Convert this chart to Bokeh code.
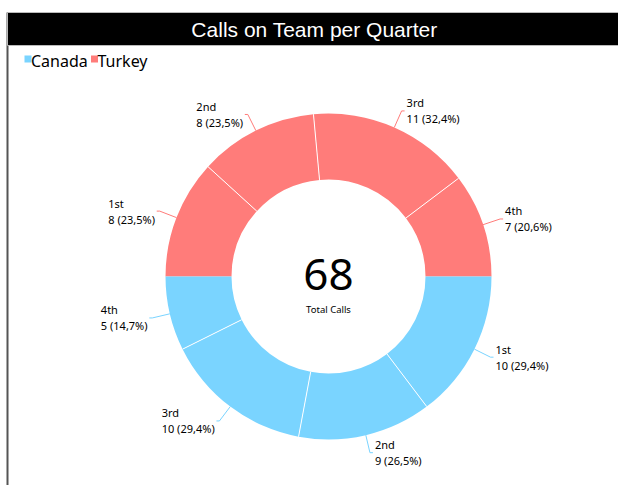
import math
from bokeh.plotting import figure
from bokeh.models import Range1d, ColumnDataSource
from bokeh.embed import file_html
from bokeh.resources import INLINE
from bokeh.core.properties import value

# ---------------- data ----------------
title_text = "Calls on Team per Quarter"
series = ["Canada", "Turkey"]
quarters = ["1st", "2nd", "3rd", "4th"]
canada = [10, 9, 10, 5]
turkey = [8, 8, 11, 7]
center_caption = "Total Calls"
series_colors = ["#7AD4FF", "#FF7C7A"]

# ---------------- layout ----------------
W, H = 618, 485


def Y(py):
    return H - py


FONT = "Noto Sans"
p = figure(width=W, height=H, x_range=Range1d(0, W), y_range=Range1d(0, H),
           output_backend="svg", toolbar_location=None,
           x_axis_type=None, y_axis_type=None, min_border=0)
p.grid.visible = False
p.outline_line_color = None
p.background_fill_color = "white"
p.border_fill_color = "white"

color_of = dict(zip(series, series_colors))
values_of = {"Canada": canada, "Turkey": turkey}

# frame: left border and title bar
p.segment(x0=[7], y0=[Y(12)], x1=[7], y1=[Y(485)], line_color="#555555", line_width=2)
p.quad(left=[7], right=[640], top=[Y(12)], bottom=[Y(45)], fill_color="black",
       line_color="#bbbbbb", line_width=1)
p.text(x=[314], y=[Y(29)], text=[title_text], text_color="white",
       text_font=value("Liberation Sans"), text_font_size="21px",
       text_align="center", text_baseline="middle")

# legend
leg_sq_x = [27.5, 94]
leg_tx_x = [30.5, 97]
p.rect(x=leg_sq_x, y=[Y(58.5)] * 2, width=7, height=7, fill_color=series_colors,
       line_color=None)
p.text(x=leg_tx_x, y=[Y(60)] * 2, text=series, text_color="black",
       text_font=value(FONT), text_font_size="16px", text_align="left",
       text_baseline="middle")

# donut
cx, cy = 328, Y(276)
R_out, R_in = 163, 97
total = sum(canada) + sum(turkey)

starts, ends, cols = [], [], []
sep_angles = []
labels = []
cum = 0
for name in ["Turkey", "Canada"]:
    vals = values_of[name]
    s = sum(vals)
    for i, (q, v) in enumerate(zip(quarters, vals)):
        a0 = math.pi - 2 * math.pi * cum / total
        cum += v
        a1 = math.pi - 2 * math.pi * cum / total
        starts.append(a0)
        ends.append(a1)
        cols.append(color_of[name])
        if i < len(vals) - 1:
            sep_angles.append(a1)
        pct = f"{100.0 * v / s:.1f}".replace(".", ",")
        labels.append((name, q, f"{v} ({pct}%)", (a0 + a1) / 2))

src = ColumnDataSource(dict(start=starts, end=ends, color=cols))
p.annular_wedge(x=cx, y=cy, inner_radius=R_in, outer_radius=R_out,
                start_angle="start", end_angle="end", direction="clock",
                fill_color="color", line_color=None, source=src)

p.segment(x0=[cx + R_in * math.cos(a) for a in sep_angles],
          y0=[cy + R_in * math.sin(a) for a in sep_angles],
          x1=[cx + R_out * math.cos(a) for a in sep_angles],
          y1=[cy + R_out * math.sin(a) for a in sep_angles],
          line_color="white", line_width=1)

# label widths (approx. Noto Sans advance widths, em)
CW = {" ": 0.26, "(": 0.296, ")": 0.296, ",": 0.258, "%": 0.826, "s": 0.479,
      "t": 0.361, "n": 0.618, "d": 0.623, "r": 0.411, "h": 0.618}


def tw(s, size=11):
    return sum(CW.get(c, 0.572) for c in s) * size


lx, ly, lc = [], [], []
tx, ty, tt = [], [], []
for name, q, vtxt, mid in labels:
    c, sn = math.cos(mid), math.sin(mid)
    x0, y0 = cx + R_out * c, cy + R_out * sn
    ex, ey = cx + (R_out + 18) * c, cy + (R_out + 18) * sn
    d = 3 if c >= 0 else -3
    hx = ex + d
    lx.append([x0, ex, hx])
    ly.append([y0, ey, ey])
    lc.append(color_of[name])
    if c >= 0:
        left = hx + 2
    else:
        left = hx - 2 - max(tw(q), tw(vtxt))
    tx += [left, left]
    ty += [ey + 8, ey - 8]
    tt += [q, vtxt]

p.multi_line(xs=lx, ys=ly, line_color=lc, line_width=1)
p.text(x=tx, y=ty, text=tt, text_color="black", text_font=value(FONT),
       text_font_size="11px", text_align="left", text_baseline="middle")

# center
p.text(x=[cx], y=[Y(274)], text=[str(total)], text_color="black",
       text_font=value(FONT), text_font_size="44px", text_align="center",
       text_baseline="middle")
p.text(x=[cx], y=[Y(309)], text=[center_caption], text_color="black",
       text_font=value(FONT), text_font_size="9.5px", text_align="center",
       text_baseline="middle")

open("out.html", "w").write(file_html(p, INLINE))
